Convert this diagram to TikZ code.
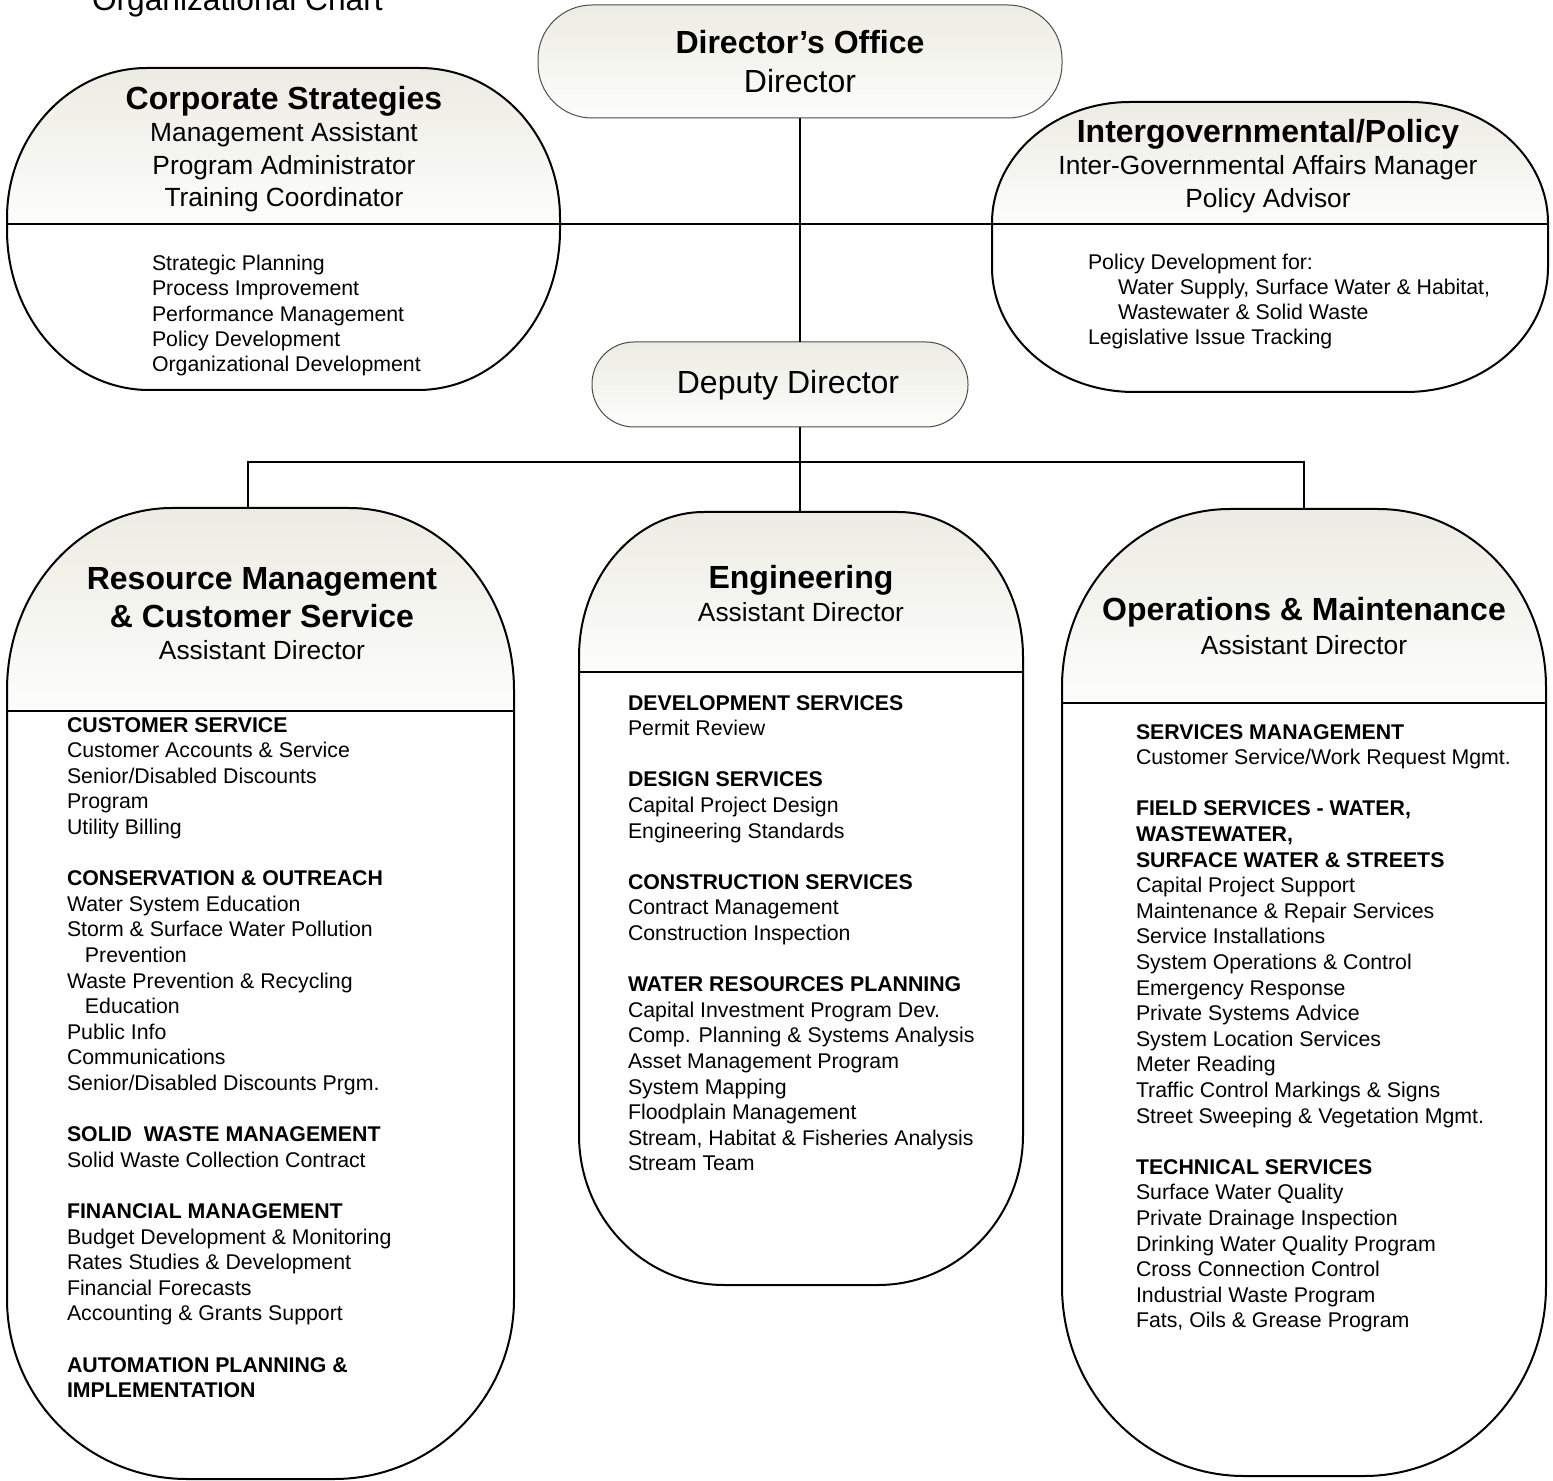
\documentclass[tikz,border=0pt]{standalone}
\usepackage{fontspec}
\setmainfont{Liberation Sans}
\usetikzlibrary{positioning}

\definecolor{shadetop}{RGB}{236,236,227}
\definecolor{shadebot}{RGB}{253,253,251}

% outline with elliptic corners: x1,y1,x2,y2, rx/ry top, rx/ry bottom
\newcommand{\capsule}[8]{({#1},{#2+#6}) .. controls ({#1},{#2+0.448*#6}) and ({#1+0.448*#5},{#2}) .. ({#1+#5},{#2})
  -- ({#3-#5},{#2}) .. controls ({#3-0.448*#5},{#2}) and ({#3},{#2+0.448*#6}) .. ({#3},{#2+#6})
  -- ({#3},{#4-#8}) .. controls ({#3},{#4-0.448*#8}) and ({#3-0.448*#7},{#4}) .. ({#3-#7},{#4})
  -- ({#1+#7},{#4}) .. controls ({#1+0.448*#7},{#4}) and ({#1},{#4-0.448*#8}) .. ({#1},{#4-#8}) -- cycle}

% shaded head, white body, divider
\newcommand{\orgbox}[9]{%
  \begin{scope}
    \clip \capsule{#1}{#2}{#3}{#4}{#6}{#7}{#8}{#9};
    \shade[top color=shadetop, bottom color=shadebot] (#1,#2) rectangle (#3,#5);
  \end{scope}
  \draw[boxline] \capsule{#1}{#2}{#3}{#4}{#6}{#7}{#8}{#9};
  \draw[boxline] (#1,#5) -- (#3,#5);
}

\tikzset{
  boxline/.style={line width=1pt},
  conn/.style={line width=0.75pt},
  pill/.style={draw=black!70, line width=0.5pt, top color=shadetop, bottom color=shadebot},
  ttl/.style={font=\fontsize{16}{19}\selectfont\bfseries, align=center},
  subttl/.style={font=\fontsize{13.15}{16.25}\selectfont, align=center},
  bodytxt/.style={font=\fontsize{10.65}{12.8}\selectfont, align=left, anchor=north west},
}

\begin{document}
\begin{tikzpicture}[x=0.5pt, y=-0.5pt, every node/.style={inner sep=0pt, outer sep=0pt}]
  \useasboundingbox (0,0) rectangle (1553,1481);

  \node[anchor=base west, font=\fontsize{15.85}{19}\selectfont] (chart) at (92,11) {Organizational Chart};

  % boxes
  \orgbox{7}{68}{560}{390}{224}{140}{150}{142}{160}
  \orgbox{992}{102}{1548}{392}{224}{138}{121}{142}{125}
  \orgbox{7}{508}{514}{1479}{711}{165}{182}{180}{180}
  \orgbox{579}{512}{1023}{1285}{672}{125}{145}{145}{150}
  \orgbox{1062}{509}{1546}{1476}{703}{168}{178}{182}{190}

  \node[pill, minimum width=262pt, minimum height=56.5pt, rounded corners=27pt,
        font=\fontsize{16}{19.5}\selectfont, align=center] (dir) at (800,61.5)
        {\textbf{Director's Office}\\Director};
  \node[pill, minimum width=188pt, minimum height=42.5pt, rounded corners=21pt] (dep) at (780,384.5) {};
  \node[anchor=base, font=\fontsize{16}{19}\selectfont] (dep-txt) at (788,393.5) {Deputy Director};

  \coordinate (corp-e) at (560,224);
  \coordinate (pol-w) at (992,224);
  \coordinate (res-top) at (248,508);
  \coordinate (eng-top) at (800,512);
  \coordinate (ops-top) at (1304,509);
  \coordinate (bus) at (800,462);

  \draw[conn] (dir.south) -- (dir.south |- dep.north);
  \draw[conn] (corp-e) -- (pol-w);
  \draw[conn] (dir.south |- dep.south) -- (eng-top);
  \draw[conn] (res-top) |- (bus) -| (ops-top);

  % Corporate Strategies
  \node[ttl, anchor=base] (corp) at (284,109.5) {Corporate Strategies};
  \node[subttl, below=3.2pt of corp] (corp-sub) {Management Assistant\\Program Administrator\\Training Coordinator};
  \node[bodytxt, font=\fontsize{10.65}{12.63}\selectfont] (corp-body) at (152,255.3)
    {Strategic Planning\\Process Improvement\\Performance Management\\Policy Development\\Organizational Development};

  % Intergovernmental/Policy
  \node[ttl, anchor=base] (pol) at (1268,142.5) {Intergovernmental/Policy};
  \node[subttl, below=3.2pt of pol] (pol-sub) {Inter-Governmental Affairs Manager\\Policy Advisor};
  \node[bodytxt, font=\fontsize{10.65}{12.5}\selectfont] (pol-body) at (1088,254.3)
    {Policy Development for:\\
     \hspace*{15pt}Water Supply, Surface Water \& Habitat,\\
     \hspace*{15pt}Wastewater \& Solid Waste\\
     Legislative Issue Tracking};

  % Resource Management
  \node[ttl, anchor=north] (res) at (262,567.6) {Resource Management\\\& Customer Service};
  \node[subttl, below=6.5pt of res] (res-sub) {Assistant Director};
  \node[bodytxt] (res-body) at (67,717.3)
    {\textbf{CUSTOMER SERVICE}\\
     Customer Accounts \& Service\\
     Senior/Disabled Discounts\\
     Program\\
     Utility Billing\\[12.8pt]
     \textbf{CONSERVATION \& OUTREACH}\\
     Water System Education\\
     Storm \& Surface Water Pollution\\
     \hspace*{9pt}Prevention\\
     Waste Prevention \& Recycling\\
     \hspace*{9pt}Education\\
     Public Info\\
     Communications\\
     Senior/Disabled Discounts Prgm.\\[12.8pt]
     \textbf{SOLID\ \ WASTE MANAGEMENT}\\
     Solid Waste Collection Contract\\[12.8pt]
     \textbf{FINANCIAL MANAGEMENT}\\
     Budget Development \& Monitoring\\
     Rates Studies \& Development\\
     Financial Forecasts\\
     Accounting \& Grants Support\\[12.8pt]
     \textbf{AUTOMATION PLANNING \&}\\
     \textbf{IMPLEMENTATION}};

  % Engineering
  \node[ttl, anchor=base] (eng) at (801,588.5) {Engineering};
  \node[subttl, below=3.7pt of eng] (eng-sub) {Assistant Director};
  \node[bodytxt] (eng-body) at (628,695.3)
    {\textbf{DEVELOPMENT SERVICES}\\
     Permit Review\\[12.8pt]
     \textbf{DESIGN SERVICES}\\
     Capital Project Design\\
     Engineering Standards\\[12.8pt]
     \textbf{CONSTRUCTION SERVICES}\\
     Contract Management\\
     Construction Inspection\\[12.8pt]
     \textbf{WATER RESOURCES PLANNING}\\
     Capital Investment Program Dev.\\
     Comp. Planning \& Systems Analysis\\
     Asset Management Program\\
     System Mapping\\
     Floodplain Management\\
     Stream, Habitat \& Fisheries Analysis\\
     Stream Team};

  % Operations & Maintenance
  \node[ttl, anchor=base] (ops) at (1304,620.5) {Operations \& Maintenance};
  \node[subttl, below=4.2pt of ops] (ops-sub) {Assistant Director};
  \node[bodytxt] (ops-body) at (1136,724.3)
    {\textbf{SERVICES MANAGEMENT}\\
     Customer Service/Work Request Mgmt.\\[12.8pt]
     \textbf{FIELD SERVICES - WATER,}\\
     \textbf{WASTEWATER,}\\
     \textbf{SURFACE WATER \& STREETS}\\
     Capital Project Support\\
     Maintenance \& Repair Services\\
     Service Installations\\
     System Operations \& Control\\
     Emergency Response\\
     Private Systems Advice\\
     System Location Services\\
     Meter Reading\\
     Traffic Control Markings \& Signs\\
     Street Sweeping \& Vegetation Mgmt.\\[12.8pt]
     \textbf{TECHNICAL SERVICES}\\
     Surface Water Quality\\
     Private Drainage Inspection\\
     Drinking Water Quality Program\\
     Cross Connection Control\\
     Industrial Waste Program\\
     Fats, Oils \& Grease Program};
\end{tikzpicture}
\end{document}
